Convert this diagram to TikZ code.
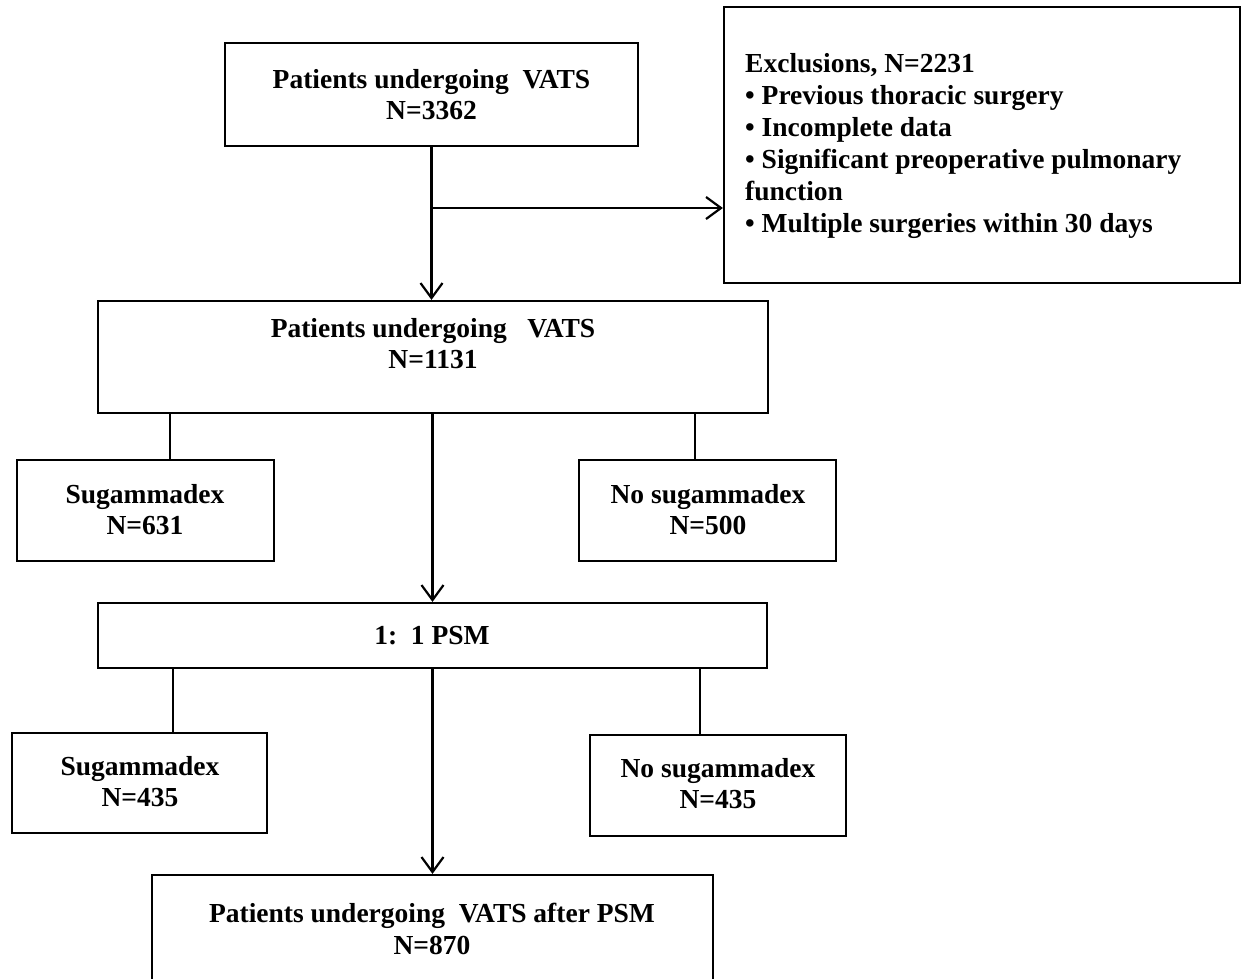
\documentclass[tikz,border=0pt]{standalone}
\usepackage{fontspec}
\setmainfont{Liberation Serif}
\usetikzlibrary{arrows.meta,calc}
\begin{document}
\begin{tikzpicture}[x=1pt,y=-1pt,
  box/.style={draw, line width=2.2pt, inner sep=0pt, rectangle},
  txt/.style={font=\bfseries\fontsize{27.5}{31.5}\selectfont, align=center, inner sep=0pt, anchor=north},
  etxt/.style={font=\bfseries\fontsize{27.5}{31.5}\selectfont, inner sep=0pt, anchor=base west},
  ln/.style={line width=2.2pt},
  arr/.style={line width=2.2pt, -{Straight Barb[length=15pt,width=22pt,line width=2.2pt]}}]
\clip (0,0) rectangle (1242,978);
\fill[white] (0,0) rectangle (1242,978);
% boxes
\node[box, minimum width=413pt, minimum height=103pt] (b1) at (431.5,94.5) {};
\node[box, minimum width=516pt, minimum height=276pt] (ex) at (982,145) {};
\node[box, minimum width=670pt, minimum height=112pt] (b2) at (433,357) {};
\node[box, minimum width=257pt, minimum height=101pt] (s1) at (145.5,510.5) {};
\node[box, minimum width=257pt, minimum height=101pt] (n1) at (707.5,510.5) {};
\node[box, minimum width=669pt, minimum height=65pt] (psm) at (432.5,635.5) {};
\node[box, minimum width=255pt, minimum height=100pt] (s2) at (139.5,783) {};
\node[box, minimum width=256pt, minimum height=101pt] (n2) at (718,785.5) {};
\node[box, minimum width=561pt, minimum height=125pt] (b3) at (432.5,937.5) {};
% texts
\node[txt] (t1) at (431.5,69) {Patients undergoing\ \ VATS\\N=3362};
\node[txt] (t2) at (433,318) {Patients undergoing\ \ \ VATS\\N=1131};
\node[txt] (t3) at (145,484) {Sugammadex\\N=631};
\node[txt] (t4) at (708,484) {No sugammadex\\N=500};
\node[txt] (t5) at (432,626) {1:\ \ 1 PSM};
\node[txt] (t6) at (140,756) {Sugammadex\\N=435};
\node[txt] (t7) at (718,758) {No sugammadex\\N=435};
\node[txt] (t8) at (432,903) {Patients undergoing\ \ VATS after PSM\\N=870};
\node[etxt] (e1) at (745,72) {Exclusions, N=2231};
\node[etxt] (e2) at (745,104) {• Previous thoracic surgery};
\node[etxt] (e3) at (745,136) {• Incomplete data};
\node[etxt] (e4) at (745,168) {• Significant preoperative pulmonary};
\node[etxt] (e5) at (745,200) {function};
\node[etxt] (e6) at (745,232) {• Multiple surgeries within 30 days};
% connectors
\draw[arr] (b1.south) -- (b1.south |- b2.north);
\coordinate (br) at (431.5,208);
\draw[arr] (br) -- (br -| ex.west);
\coordinate (j1) at (170,0);
\coordinate (j2) at (695,0);
\draw[ln] (b2.south -| j1) -- (s1.north -| j1);
\draw[ln] (b2.south -| j2) -- (n1.north -| j2);
\draw[arr] (b2.south -| psm.north) -- (psm.north);
\coordinate (j3) at (173,0);
\coordinate (j4) at (700,0);
\draw[ln] (psm.south -| j3) -- (s2.north -| j3);
\draw[ln] (psm.south -| j4) -- (n2.north -| j4);
\draw[arr] (psm.south) -- (b3.north);
\end{tikzpicture}
\end{document}
